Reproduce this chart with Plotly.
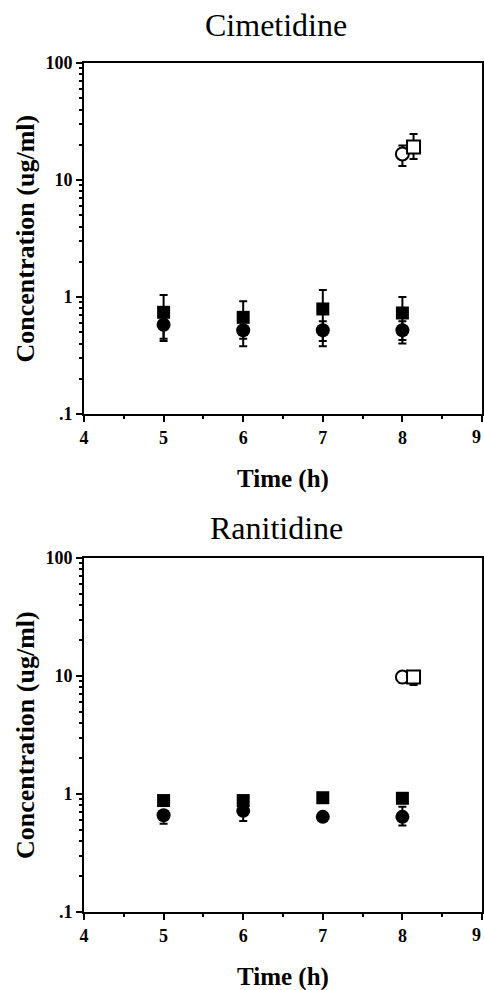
import plotly.graph_objects as go

# ---------------- data ----------------
times = [5, 6, 7, 8]
open_times = [8]

# Cimetidine
cim_sq = [0.74, 0.67, 0.79, 0.73]
cim_sq_plus = [0.30, 0.25, 0.36, 0.27]
cim_sq_minus = [0.30, 0.23, 0.37, 0.30]
cim_ci = [0.58, 0.52, 0.52, 0.52]
cim_ci_plus = [0.10, 0.10, 0.10, 0.10]
cim_ci_minus = [0.16, 0.14, 0.14, 0.12]
cim_open_ci = [16.7]
cim_open_ci_plus = [3.0]
cim_open_ci_minus = [3.5]
cim_open_sq = [19.1]
cim_open_sq_plus = [5.6]
cim_open_sq_minus = [4.0]

# Ranitidine
ran_sq = [0.88, 0.88, 0.93, 0.92]
ran_sq_plus = [0.05, 0.06, 0.06, 0.04]
ran_sq_minus = [0.05, 0.06, 0.06, 0.04]
ran_ci = [0.66, 0.72, 0.64, 0.64]
ran_ci_plus = [0.05, 0.05, 0.03, 0.14]
ran_ci_minus = [0.10, 0.13, 0.03, 0.10]
ran_open_ci = [9.8]
ran_open_ci_plus = [0.9]
ran_open_ci_minus = [1.0]
ran_open_sq = [9.8]
ran_open_sq_plus = [0.9]
ran_open_sq_minus = [1.4]

titles = ["Cimetidine", "Ranitidine"]
x_title = "Time (h)"
y_title = "Concentration (ug/ml)"
y_tickvals = [0.1, 1, 10, 100]
y_ticktext = [".1", "1", "10", "100"]
x_tickvals = [4, 5, 6, 7, 8, 9]
x_edge_label = 9

DODGE = 0.14
SERIF = "Liberation Serif, Times New Roman, serif"

W, H = 484, 990
L_PX, R_PX = 84, 482
panels = [(63, 414), (558, 912)]  # (top px, bottom px)
title_y_px = [25, 528]
xtitle_y_px = [479, 977]
title_x_px = 276

fig = go.Figure()


def err(plus, minus):
    return dict(type="data", symmetric=False, array=plus, arrayminus=minus,
                color="black", thickness=2, width=4)


datasets = [
    (cim_sq, cim_sq_plus, cim_sq_minus, cim_ci, cim_ci_plus, cim_ci_minus,
     cim_open_ci, cim_open_ci_plus, cim_open_ci_minus,
     cim_open_sq, cim_open_sq_plus, cim_open_sq_minus),
    (ran_sq, ran_sq_plus, ran_sq_minus, ran_ci, ran_ci_plus, ran_ci_minus,
     ran_open_ci, ran_open_ci_plus, ran_open_ci_minus,
     ran_open_sq, ran_open_sq_plus, ran_open_sq_minus),
]

for i, d in enumerate(datasets):
    (sq, sqp, sqm, ci, cip, cim, oci, ocip, ocim, osq, osqp, osqm) = d
    xa = "x" if i == 0 else "x2"
    ya = "y" if i == 0 else "y2"
    fig.add_trace(go.Scatter(x=times, y=sq, mode="markers", xaxis=xa, yaxis=ya,
                             marker=dict(symbol="square", size=13, color="black"),
                             error_y=err(sqp, sqm), showlegend=False))
    fig.add_trace(go.Scatter(x=times, y=ci, mode="markers", xaxis=xa, yaxis=ya,
                             marker=dict(symbol="circle", size=14, color="black"),
                             error_y=err(cip, cim), showlegend=False))
    fig.add_trace(go.Scatter(x=open_times, y=oci, mode="markers", xaxis=xa, yaxis=ya,
                             marker=dict(symbol="circle", size=13, color="white",
                                         line=dict(color="black", width=2)),
                             error_y=err(ocip, ocim), showlegend=False))
    fig.add_trace(go.Scatter(x=[t + DODGE for t in open_times], y=osq, mode="markers",
                             xaxis=xa, yaxis=ya,
                             marker=dict(symbol="square", size=13, color="white",
                                         line=dict(color="black", width=2)),
                             error_y=err(osqp, osqm), showlegend=False))

minor_y = [m * 10 ** e for e in (-1, 0, 1) for m in range(2, 10)]
minor_x = [4.5, 5.5, 6.5, 7.5, 8.5]

tick_font = dict(family=SERIF, size=18, color="black", weight="bold")
axis_common = dict(showline=True, linecolor="black", linewidth=2, mirror=True,
                   showgrid=False, zeroline=False, ticks="outside", tickcolor="black",
                   tickwidth=2, automargin=False, tickfont=tick_font)

layout = dict(width=W, height=H, margin=dict(l=0, r=0, t=0, b=0, autoexpand=False),
              plot_bgcolor="white", paper_bgcolor="white", showlegend=False)

annotations = []
for i, (tp, bp) in enumerate(panels):
    sfx = "" if i == 0 else "2"
    layout["xaxis" + sfx] = dict(
        axis_common, domain=[L_PX / W, R_PX / W], range=[4, 9],
        tickvals=x_tickvals, ticklen=6,
        minor=dict(tickvals=minor_x, ticklen=3, tickwidth=2, tickcolor="black", ticks="outside"),
        anchor="y" + sfx)
    layout["yaxis" + sfx] = dict(
        axis_common, type="log", domain=[1 - bp / H, 1 - tp / H], range=[-1, 2],
        tickvals=y_tickvals, ticktext=y_ticktext, ticklen=6,
        minor=dict(tickvals=minor_y, ticklen=3, tickwidth=2, tickcolor="black", ticks="outside"),
        anchor="x" + sfx)
    annotations.append(dict(text=titles[i], x=title_x_px / W, y=1 - title_y_px[i] / H,
                            xref="paper", yref="paper",
                            showarrow=False, font=dict(family=SERIF, size=32, color="black"),
                            xanchor="center", yanchor="middle"))
    annotations.append(dict(text="<b>" + x_title + "</b>", x=(L_PX + R_PX) / 2 / W,
                            y=1 - xtitle_y_px[i] / H,
                            xref="paper", yref="paper", showarrow=False,
                            font=dict(family=SERIF, size=25, color="black"),
                            xanchor="center", yanchor="middle"))
    annotations.append(dict(text="<b>" + y_title + "</b>", x=25 / W, y=1 - (tp + bp) / 2 / H,
                            xref="paper", yref="paper", showarrow=False, textangle=-90,
                            font=dict(family=SERIF, size=26, color="black"),
                            xanchor="center", yanchor="middle"))
    # last x tick label sits at the page edge; anchor it to the right so it stays visible
    annotations.append(dict(text="<b>%d</b>" % x_edge_label, x=x_edge_label, xref="x" + sfx,
                            y=1 - (bp + 23) / H, yref="paper", showarrow=False,
                            font=dict(family=SERIF, size=18, color="black"),
                            xanchor="right", yanchor="middle", xshift=1))

layout["annotations"] = annotations
fig.update_layout(**layout)

post = (
    "var d=document.documentElement.style;d.margin='0';d.padding='0';d.overflow='hidden';"
    "var b=document.body.style;b.margin='0';b.padding='0';b.overflow='hidden';"
    "var g=document.getElementsByClassName('plotly-graph-div')[0];"
    "if(g){g.style.position='fixed';g.style.left='0px';g.style.top='0px';}"
)
fig.write_html("out.html", config={"displayModeBar": False}, post_script=post)
